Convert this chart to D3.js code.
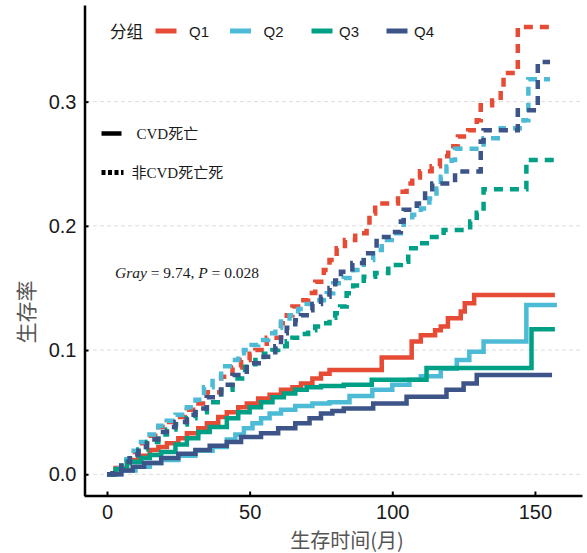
<!DOCTYPE html>
<html>
<head>
<meta charset="utf-8">
<script src="https://cdn.jsdelivr.net/npm/d3@7"></script>
<style>
  body { margin: 0; background: #fff; }
  svg { display: block; }
</style>
</head>
<body>
<div id="chart"></div>
<script>
// cumulative incidence by group, CVD death (solid) vs non-CVD death (dashed)
const groups = ['Q1', 'Q2', 'Q3', 'Q4'];
const colors = ['#E64B35', '#4DBBD5', '#00A087', '#3C5488'];
const xTicks = [0, 50, 100, 150];
const yTicks = [0, 0.1, 0.2, 0.3];

// [time (months), cumulative rate]
const q1Cvd = [[0,0],[3,0.005],[7,0.0115],[11,0.015],[15,0.0196],[18,0.022],[21,0.025],[25,0.029],[28,0.033],[32,0.037],[35,0.041],[39,0.046],[42,0.05],[46,0.054],[49,0.057],[53,0.061],[57,0.064],[61,0.068],[65,0.07],[68,0.073],[72,0.077],[75,0.081],[78,0.084],[96.3,0.094],[106.8,0.1068],[110,0.112],[115,0.116],[117,0.119],[119.5,0.1256],[124,0.131],[125.4,0.1377],[128.7,0.1444],[157,0.1444]];
const q2Cvd = [[0,0],[5,0.003],[10,0.006],[15,0.009],[19,0.0115],[25,0.015],[31,0.019],[37,0.022],[42,0.028],[45,0.032],[48,0.037],[51,0.041],[54,0.045],[57,0.049],[61,0.052],[66,0.055],[72,0.057],[78,0.058],[85,0.063],[93,0.068],[100,0.072],[106,0.076],[110,0.079],[117,0.085],[122.6,0.092],[127,0.0987],[132,0.1068],[147,0.1363],[157.7,0.1363]];
const q3Cvd = [[0,0],[3,0.004],[7,0.01],[12,0.013],[15,0.0155],[19,0.018],[24,0.024],[28,0.029],[32,0.034],[36,0.038],[42,0.045],[46,0.05],[50,0.054],[54,0.058],[58,0.062],[62,0.065],[66,0.068],[70,0.07],[75,0.071],[83,0.072],[92.8,0.076],[112,0.0856],[148.8,0.1167],[157,0.1167]];
const q4Cvd = [[0,0],[5,0.003],[9,0.006],[13,0.009],[19,0.013],[25,0.0165],[31,0.0196],[36,0.023],[42,0.026],[47,0.03],[54,0.033],[60,0.037],[66,0.041],[71,0.045],[75,0.049],[79,0.051],[83,0.053],[93.3,0.057],[105,0.0625],[119,0.068],[125,0.073],[129.6,0.08],[156,0.08]];

const q1Other = [[0,0],[2,0.004],[5,0.0115],[8,0.018],[11,0.025],[14,0.031],[18,0.038],[21,0.042],[24,0.046],[28,0.052],[31,0.057],[35,0.066],[40,0.0786],[44,0.086],[47,0.092],[50,0.097],[52,0.1],[56,0.11],[61,0.1216],[63,0.128],[65,0.135],[68,0.14],[70.5,0.146],[73,0.155],[76,0.1645],[78,0.1725],[80.5,0.182],[83.4,0.1886],[87,0.194],[91,0.2007],[92,0.21],[94,0.218],[102,0.2275],[105,0.234],[107,0.239],[109.7,0.244],[113.8,0.248],[116.7,0.256],[119.6,0.264],[123,0.272],[126.6,0.277],[129.6,0.285],[131,0.297],[135,0.301],[138,0.309],[139,0.323],[144,0.36],[155.5,0.36]];
const q2Other = [[0,0],[2,0.005],[5,0.012],[8,0.019],[11,0.026],[14,0.032],[18,0.039],[21,0.043],[24,0.048],[28,0.054],[31,0.06],[34,0.07],[37,0.077],[40,0.087],[43,0.092],[46,0.0974],[48,0.1],[50.7,0.104],[53,0.108],[56.5,0.1135],[59,0.118],[61,0.123],[64,0.128],[67,0.133],[70,0.137],[73,0.14],[77,0.1457],[79.3,0.1538],[83,0.158],[86.3,0.1645],[90,0.1725],[93.3,0.1806],[96.3,0.1886],[99.8,0.194],[104,0.2048],[107,0.209],[110,0.214],[113,0.222],[115.5,0.23],[117,0.2396],[119,0.2477],[120.8,0.253],[122,0.262],[132,0.2705],[138,0.2786],[146,0.285],[147.7,0.318],[155.3,0.318]];
const q3Other = [[0,0],[2,0.003],[5,0.009],[8,0.015],[11,0.02],[14,0.026],[18,0.032],[21,0.036],[24,0.04],[28,0.045],[31,0.05],[35,0.058],[40,0.068],[44,0.077],[48.4,0.0866],[52,0.092],[55,0.097],[58,0.1],[60,0.103],[63,0.107],[65,0.11],[68,0.113],[70.5,0.116],[73,0.119],[75,0.1216],[78,0.126],[80,0.1296],[81.7,0.135],[84,0.1457],[86.3,0.152],[90,0.159],[94,0.162],[98.6,0.1685],[103,0.171],[105.6,0.182],[109.7,0.186],[113,0.191],[118,0.1967],[127.3,0.2034],[129.6,0.2106],[132,0.2295],[147,0.253],[157,0.253]];
const q4Other = [[0,0],[2,0.003],[5,0.01],[8,0.016],[11,0.022],[14,0.028],[18,0.034],[21,0.038],[24,0.042],[28,0.048],[31,0.053],[35,0.062],[40,0.072],[44,0.08],[49,0.0894],[54,0.0947],[59,0.103],[61,0.1135],[63,0.118],[66,0.124],[68,0.128],[70,0.132],[72,0.137],[75,0.143],[78,0.15],[80,0.156],[82,0.163],[86,0.17],[90,0.178],[94.5,0.191],[99.8,0.195],[103,0.2034],[104,0.213],[108.6,0.218],[111.5,0.226],[114,0.234],[122,0.2437],[131,0.268],[132,0.277],[144,0.293],[151,0.332],[155.3,0.332]];

const cvdSeries = [q1Cvd, q2Cvd, q3Cvd, q4Cvd];
const otherSeries = [q1Other, q2Other, q3Other, q4Other];

let width = 587;
let height = 553;

let svg = d3.select('#chart').append('svg')
  .attr('width', width)
  .attr('height', height);

let xscale = d3.scaleLinear().domain([-8.06, 166.5]).range([84, 582]);
let yscale = d3.scaleLinear().domain([-0.0171, 0.3778]).range([495.5, 5]);

const sans = '"Liberation Sans", Arial, "Noto Sans CJK SC", sans-serif';
const serif = '"Liberation Serif", "Times New Roman", "Noto Sans CJK SC", serif';

// grid lines
svg.append('g')
  .selectAll('line')
  .data(yTicks)
  .join('line')
  .attr('x1', 86)
  .attr('x2', 582)
  .attr('y1', (d) => yscale(d))
  .attr('y2', (d) => yscale(d))
  .attr('stroke', '#dcdcdc')
  .attr('stroke-width', 1)
  .attr('stroke-dasharray', '4,3');

// curves
let line = d3.line()
  .x((d) => xscale(d[0]))
  .y((d) => yscale(d[1]))
  .curve(d3.curveStepAfter);

let curves = svg.append('g').attr('fill', 'none');
groups.forEach(function (g, i) {
  curves.append('path')
    .attr('d', line(otherSeries[i]))
    .attr('stroke', colors[i])
    .attr('stroke-width', 4.5)
    .attr('stroke-dasharray', '9,7');
  curves.append('path')
    .attr('d', line(cvdSeries[i]))
    .attr('stroke', colors[i])
    .attr('stroke-width', 4.5);
});

// axes
let xaxis = d3.axisBottom(xscale).tickValues(xTicks).tickSizeInner(-4).tickSizeOuter(0).tickPadding(9);
let yaxis = d3.axisLeft(yscale).tickValues(yTicks).tickFormat(d3.format('.1f')).tickSizeInner(-4).tickSizeOuter(0).tickPadding(8);

let gx = svg.append('g').attr('transform', 'translate(0, 495.5)').call(xaxis);
let gy = svg.append('g').attr('transform', 'translate(84.5, 0)').call(yaxis);

[gx, gy].forEach(function (a) {
  a.select('.domain').attr('stroke', '#000').attr('stroke-width', 2.5);
  a.selectAll('.tick line').attr('stroke', '#000').attr('stroke-width', 2);
  a.selectAll('.tick text')
    .attr('fill', '#1a1a1a')
    .style('font-family', sans)
    .style('font-size', '20px');
});

// axis titles
svg.append('text')
  .text('生存时间(月)')
  .attr('x', 347)
  .attr('y', 548)
  .attr('text-anchor', 'middle')
  .attr('fill', '#555')
  .style('font-family', '"Noto Sans CJK SC", sans-serif')
  .style('font-size', '20px');

svg.append('text')
  .text('生存率')
  .attr('transform', 'translate(34, 312) rotate(-90)')
  .attr('text-anchor', 'middle')
  .attr('fill', '#555')
  .style('font-family', '"Noto Sans CJK SC", sans-serif')
  .style('font-size', '21px');

// group legend
let legend = svg.append('g');
legend.append('text')
  .text('分组')
  .attr('x', 110)
  .attr('y', 38)
  .attr('fill', '#1a1a1a')
  .style('font-family', '"Noto Sans CJK SC", sans-serif')
  .style('font-size', '16.5px');

const keyX = [155.5, 230, 311.5, 386.5];
const labelX = [189, 263.5, 339, 414];
groups.forEach(function (g, i) {
  legend.append('line')
    .attr('x1', keyX[i])
    .attr('x2', keyX[i] + 21)
    .attr('y1', 31)
    .attr('y2', 31)
    .attr('stroke', colors[i])
    .attr('stroke-width', 5);
  legend.append('text')
    .text(g)
    .attr('x', labelX[i])
    .attr('y', 36.5)
    .attr('fill', '#1a1a1a')
    .style('font-family', sans)
    .style('font-size', '15px');
});

// line type legend
const typeLabels = ['CVD死亡', '非CVD死亡死'];
const typeDash = [null, '4,2.5'];
const typeY = [133.5, 172.5];
const typeTextX = [136.5, 131.5];
typeLabels.forEach(function (t, i) {
  legend.append('line')
    .attr('x1', 101.5)
    .attr('x2', i === 0 ? 121.5 : 123.5)
    .attr('y1', typeY[i])
    .attr('y2', typeY[i])
    .attr('stroke', '#000')
    .attr('stroke-width', i === 0 ? 4.5 : 5)
    .attr('stroke-dasharray', typeDash[i]);
  legend.append('text')
    .text(t)
    .attr('x', typeTextX[i])
    .attr('y', typeY[i] + 5.5)
    .attr('fill', '#1a1a1a')
    .style('font-family', serif)
    .style('font-size', '15px');
});

// test statistic
let stat = svg.append('text')
  .attr('x', 115)
  .attr('y', 278)
  .attr('fill', '#1a1a1a')
  .style('font-family', serif)
  .style('font-size', '15.5px');
stat.append('tspan').text('Gray').style('font-style', 'italic');
stat.append('tspan').text(' = 9.74, ');
stat.append('tspan').text('P').style('font-style', 'italic');
stat.append('tspan').text(' = 0.028');
</script>
</body>
</html>
